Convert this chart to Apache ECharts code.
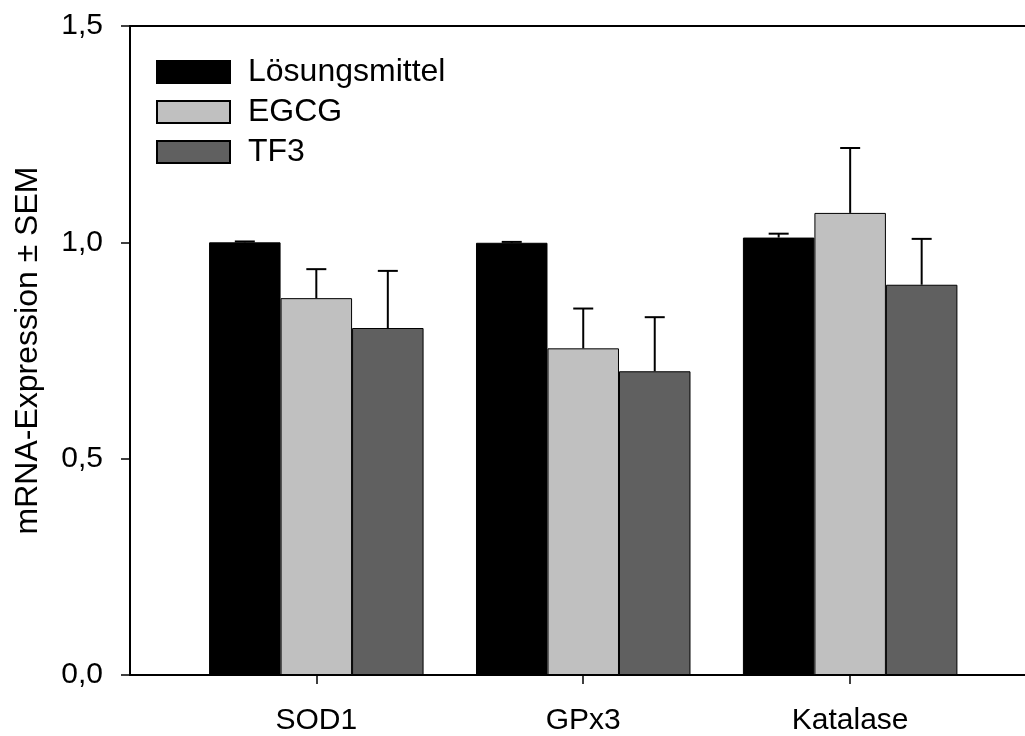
<!DOCTYPE html>
<html>
<head>
<meta charset="utf-8">
<script src="https://cdn.jsdelivr.net/npm/echarts@6/dist/echarts.min.js"></script>
<style>
html, body { margin: 0; padding: 0; background: #fff; }
#chart { width: 1025px; height: 736px; }
</style>
</head>
<body>
<div id="chart"></div>
<script>
// Kategorien und Werte
var categories = ['SOD1', 'GPx3', 'Katalase'];
var seriesNames = ['Lösungsmittel', 'EGCG', 'TF3'];
var solvent = [1.000, 0.999, 1.011];
var solventErr = [0.002, 0.002, 0.009];
var egcg = [0.871, 0.755, 1.068];
var egcgErr = [0.067, 0.092, 0.150];
var tf3 = [0.802, 0.702, 0.902];
var tf3Err = [0.132, 0.125, 0.106];
var yTicks = [0, 0.5, 1.0, 1.5];

var colors = ['#000000', '#c0c0c0', '#606060'];
var font = 'Liberation Sans, Arial, sans-serif';
var barW = 71.5;

var means = [solvent, egcg, tf3];
var errs = [solventErr, egcgErr, tf3Err];

// Balken: [Position, Wert]
function barData(arr) {
    return arr.map(function (v, i) { return [i + 1, v]; });
}

// Fehlerbalken: [Position, Mittelwert, SEM, Serie]
var errData = [];
means.forEach(function (arr, s) {
    arr.forEach(function (v, i) {
        errData.push([i + 1, v, errs[s][i], s]);
    });
});

var chart = echarts.init(document.getElementById('chart'));

var series = seriesNames.map(function (name, s) {
    return {
        name: name,
        type: 'bar',
        data: barData(means[s]),
        barWidth: barW,
        barGap: '0%',
        itemStyle: { color: colors[s], borderColor: '#000', borderWidth: 1 },
        silent: true
    };
});

series.push({
    type: 'custom',
    data: errData,
    z: 10,
    silent: true,
    renderItem: function (params, api) {
        var x = api.value(0), m = api.value(1), e = api.value(2), s = api.value(3);
        var base = api.coord([x, m]);
        var top = api.coord([x, m + e]);
        var cx = base[0] + (s - 1) * barW;
        var half = 10;
        var st = { stroke: '#000', lineWidth: 2, fill: null };
        return {
            type: 'group',
            children: [
                { type: 'line', shape: { x1: cx, y1: base[1], x2: cx, y2: top[1] }, style: st },
                { type: 'line', shape: { x1: cx - half, y1: top[1], x2: cx + half, y2: top[1] }, style: st }
            ]
        };
    }
});

chart.setOption({
    animation: false,
    backgroundColor: '#fff',
    textStyle: { fontFamily: font },
    grid: { left: 130, right: 0, top: 26, bottom: 60 },
    legend: {
        data: seriesNames,
        orient: 'vertical',
        left: 156,
        top: 56,
        padding: 0,
        itemWidth: 73,
        itemHeight: 22,
        itemGap: 8,
        icon: 'rect',
        textStyle: { fontSize: 32, color: '#000', fontFamily: font, lineHeight: 30, padding: [0, 0, 0, 13] }
    },
    xAxis: [{
        type: 'value',
        min: 0.302,
        max: 3.655,
        splitLine: { show: false },
        axisLine: { show: true, onZero: false, lineStyle: { color: '#000', width: 2 } },
        axisTick: { show: true, length: 9, customValues: [1, 2, 3], lineStyle: { color: '#000', width: 1.5 } },
        axisLabel: {
            customValues: [1, 2, 3],
            margin: 31,
            fontSize: 30,
            color: '#000',
            fontFamily: font,
            formatter: function (v) { return categories[Math.round(v) - 1]; }
        }
    }, {
        type: 'value',
        position: 'top',
        min: 0.302,
        max: 3.655,
        splitLine: { show: false },
        axisLine: { show: true, onZero: false, lineStyle: { color: '#000', width: 2 } },
        axisTick: { show: false },
        axisLabel: { show: false }
    }],
    yAxis: {
        type: 'value',
        min: 0,
        max: 1.5,
        interval: 0.5,
        name: 'mRNA-Expression ± SEM',
        nameLocation: 'middle',
        nameRotate: 90,
        nameGap: 86,
        nameTextStyle: { fontSize: 32, color: '#000', fontFamily: font },
        splitLine: { show: false },
        axisLine: { show: true, lineStyle: { color: '#000', width: 2 } },
        axisTick: { show: true, length: 9, lineStyle: { color: '#000', width: 1.5 } },
        axisLabel: {
            margin: 27,
            fontSize: 30,
            color: '#000',
            fontFamily: font,
            customValues: yTicks,
            formatter: function (v) { return v.toFixed(1).replace('.', ','); }
        }
    },
    series: series
});
</script>
</body>
</html>
